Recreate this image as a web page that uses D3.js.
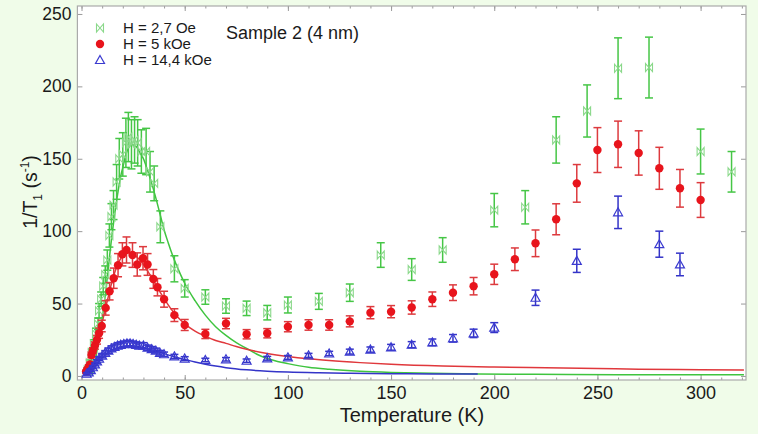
<!DOCTYPE html>
<html>
<head>
<meta charset="utf-8">
<script src="https://cdn.jsdelivr.net/npm/d3@7"></script>
<style>
  html, body { margin: 0; padding: 0; background: #f0fce9; }
  svg { display: block; }
  text { font-family: "Liberation Sans", Arial, sans-serif; fill: #1a1a1a; }
</style>
</head>
<body>
<svg id="chart" width="758" height="434"></svg>
<script>
// 1/T1 relaxation rate vs temperature, sample 2 (4 nm), three applied fields.
// Each row: [temperature K, 1/T1 s^-1, error half-height]
const lowField = [
  [3, 4, 1.5], [4, 9, 2], [5, 16, 2.5], [6, 22, 3], [7, 29, 4], [8, 36, 4],
  [8.5, 45, 5], [9.5, 53, 5], [10.5, 62, 6], [11.5, 70, 6], [12.5, 80, 7],
  [13.5, 97, 8], [14.5, 110, 9], [15.5, 118, 10], [17, 134, 12], [18.3, 150, 14],
  [20, 153, 15], [21.5, 161, 17], [22.7, 165, 17], [24.2, 160, 17], [25.7, 163, 16],
  [27.2, 161, 16], [29, 155, 15], [31.3, 155, 16], [33.2, 141, 14], [35.2, 133, 12],
  [38.2, 103, 11], [45, 74, 9], [50, 60.5, 6], [60, 54.5, 5], [70, 48.3, 5],
  [80, 46.7, 5], [90, 43.7, 5], [100, 49, 5.5], [115, 51.5, 5.5], [130, 57.5, 6],
  [145, 83.5, 8.5], [160, 73.5, 7.5], [175, 87, 8.5], [200, 114.5, 11.5],
  [215, 116.5, 11.5], [230, 163, 16], [245, 183, 18], [260, 212.5, 21],
  [275, 213, 21], [300, 155, 15.5], [315, 141, 14]
];
const midField = [
  [2.2, 3, 1], [2.8, 4.5, 1], [3.5, 6.4, 1.2], [4.2, 8, 1.5], [4.8, 14.5, 2],
  [5.5, 17.5, 2], [6.5, 21, 2.5], [7.5, 25, 3], [8.5, 29.5, 3.5], [9.8, 34.5, 4],
  [11.7, 47, 5], [13.6, 58.5, 6], [15.6, 67.5, 7], [17.7, 76.5, 8], [19.8, 84, 8],
  [21.8, 87, 9], [24.7, 83.5, 8.5], [27, 77, 8], [29.8, 81.3, 8], [32, 77, 7.5],
  [34.8, 67, 6.5], [36.8, 61.3, 6], [40, 53, 5.5], [45, 42, 4.4], [50, 35.2, 3.8],
  [60, 29, 3.2], [70, 36.2, 3.6], [80, 28.8, 3.2], [90, 29.5, 3.2], [100, 34, 3.5],
  [110, 35.2, 3.6], [120, 35.2, 3.6], [130, 37.7, 3.8], [140, 43.7, 4.2],
  [150, 44.4, 4.2], [160, 47.3, 4.6], [170, 53, 5], [180, 57.5, 5.4],
  [190, 62, 6], [200, 70.2, 7], [210, 80.6, 7.8], [220, 91.6, 9.2],
  [230, 108.2, 10.7], [240, 133, 13], [250, 156, 15.5], [260, 160, 16],
  [270, 154, 15.3], [280, 143.4, 14.5], [290, 129.6, 13], [300, 121.5, 12]
];
const highField = [
  [2.5, 1.5, 0.8], [3.5, 2.5, 0.8], [4.5, 4, 1], [5.5, 6, 1], [6.5, 8, 1],
  [7.5, 10, 1.2], [8.5, 12, 1.2], [10, 14, 1.5], [11.5, 16, 1.5], [13, 17.5, 1.8],
  [14.5, 19, 1.8], [16, 20, 2], [17.5, 21, 2], [19, 21.5, 2], [20.5, 22, 2],
  [22, 22.5, 2], [23.5, 22.5, 2], [25, 22, 2], [26.5, 21.5, 2], [28, 21, 2],
  [30, 21, 2], [32, 19.5, 1.8], [34, 18.5, 1.8], [36, 17.5, 1.7], [38, 16, 1.6],
  [40, 15, 1.5], [45, 13.5, 1.4], [50, 12, 1.3], [60, 11, 1.2], [70, 11.5, 1.2],
  [80, 10.5, 1.2], [90, 12.2, 1.3], [100, 12.8, 1.3], [110, 14.2, 1.4],
  [120, 15.5, 1.5], [130, 16.8, 1.7], [140, 18.2, 1.8], [150, 19.8, 2],
  [160, 21.6, 2.1], [170, 23.2, 2.3], [180, 26, 2.6], [190, 29.4, 2.9],
  [200, 33.4, 3.4], [220, 54, 5.3], [240, 79.5, 8], [260, 113, 11.2],
  [280, 91, 9], [290, 77, 7.8]
];

// Model fits, [temperature K, 1/T1 s^-1]
const lowFieldFit = [
  [5, 0.5], [6, 5], [7, 13], [8, 22], [9, 31], [10, 40], [11, 50], [12, 62],
  [13, 75], [14, 88], [15, 100], [16, 111], [17, 121], [18, 130], [19, 138],
  [20, 144], [21, 150], [22, 155], [23, 158], [24, 159.5], [25, 159.5], [26, 159],
  [27, 157.5], [28, 155], [30, 150], [32, 142], [34, 133], [36, 123], [38, 112],
  [40, 101], [42, 92], [45, 80], [48, 70], [50, 64], [55, 52], [60, 42], [65, 34],
  [70, 28], [75, 23], [80, 19], [85, 15], [90, 12], [95, 10], [100, 8.5],
  [110, 6], [120, 4.6], [135, 3.2], [150, 2.4], [170, 1.8], [192, 1.4],
  [220, 1.1], [260, 0.9], [321, 0.8]
];
const midFieldFit = [
  [2, 2], [3, 4], [4, 7], [5, 11], [6, 16], [7, 21], [8, 26], [9, 31], [10, 37],
  [11, 43], [12, 49], [13, 55], [14, 61], [15, 66], [16, 71], [17, 75],
  [18, 78.5], [19, 81], [20, 83], [21, 84.3], [22, 85], [23, 85.2], [24, 85],
  [25, 84.3], [26, 83.3], [28, 80.5], [30, 77], [32, 72.5], [34, 68], [36, 63],
  [38, 58], [40, 53.5], [43, 47], [46, 41.5], [50, 36], [55, 31], [60, 27.5],
  [65, 24.5], [70, 22.5], [75, 20.3], [80, 18.4], [90, 15.5], [100, 13.4],
  [110, 11.8], [120, 10.6], [135, 9.2], [150, 8.1], [175, 6.9], [200, 6.2],
  [225, 5.6], [250, 5.1], [270, 4.7], [300, 4.3], [321, 4.1]
];
const highFieldFit = [
  [3, 0.5], [4, 2], [5, 3.5], [6, 5.5], [7, 7.5], [8, 9.3], [9, 11], [10, 12.5],
  [12, 15], [14, 17], [16, 18.5], [18, 19.6], [20, 20.3], [22, 20.7], [24, 20.8],
  [26, 20.6], [28, 20.2], [30, 19.6], [33, 18.5], [36, 17.2], [40, 15.4],
  [45, 13.3], [50, 11.4], [55, 9.6], [60, 8.1], [65, 6.8], [70, 5.7], [80, 4.2],
  [90, 3.3], [100, 2.7], [115, 2.2], [130, 1.9], [150, 1.6], [170, 1.4], [192, 1.3]
];

const xTicks = [0, 50, 100, 150, 200, 250, 300];
const yTicks = [0, 50, 100, 150, 200, 250];
const legendLabels = ["H = 2,7 Oe", "H = 5 kOe", "H = 14,4 kOe"];
const sampleTitle = "Sample 2 (4 nm)";

const svg = d3.select("#chart");
const frame = { l: 77.4, r: 746, t: 6, b: 380 };

const x = d3.scaleLinear().domain([-2, 322]).range([frame.l, frame.r]);
const y = d3.scaleLinear().domain([-2.8, 255.5]).range([frame.b, frame.t]);

// plot area
svg.append("rect")
  .attr("x", frame.l).attr("y", frame.t)
  .attr("width", frame.r - frame.l).attr("height", frame.b - frame.t)
  .attr("fill", "#ffffff");

const minorX = d3.range(0, 321, 10);

function tickOnly(g) { g.select(".domain").remove(); g.selectAll("line").attr("stroke", "#9a9a9a"); }

// bottom axis with labels
svg.append("g").attr("transform", `translate(0,${frame.b})`)
  .call(d3.axisBottom(x).tickValues(xTicks).tickSize(-5).tickPadding(6).tickFormat(d3.format("d")))
  .call(tickOnly)
  .call(g => g.selectAll("text").attr("font-size", 18).attr("fill", "#1a1a1a"));
svg.append("g").attr("transform", `translate(0,${frame.b})`)
  .call(d3.axisBottom(x).tickValues(minorX).tickSize(-2.5).tickFormat(""))
  .call(tickOnly);
// top axis ticks
svg.append("g").attr("transform", `translate(0,${frame.t})`)
  .call(d3.axisTop(x).tickValues(xTicks).tickSize(-5).tickFormat(""))
  .call(tickOnly);
svg.append("g").attr("transform", `translate(0,${frame.t})`)
  .call(d3.axisTop(x).tickValues(minorX).tickSize(-2.5).tickFormat(""))
  .call(tickOnly);
// left axis with labels
svg.append("g").attr("transform", `translate(${frame.l},0)`)
  .call(d3.axisLeft(y).tickValues(yTicks).tickSize(-5).tickPadding(6).tickFormat(d3.format("d")))
  .call(tickOnly)
  .call(g => g.selectAll("text").attr("font-size", 17.5).attr("fill", "#1a1a1a"));
// right axis ticks
svg.append("g").attr("transform", `translate(${frame.r},0)`)
  .call(d3.axisRight(y).tickValues(yTicks).tickSize(-5).tickFormat(""))
  .call(tickOnly);

// frame
svg.append("rect")
  .attr("x", frame.l).attr("y", frame.t)
  .attr("width", frame.r - frame.l).attr("height", frame.b - frame.t)
  .attr("fill", "none").attr("stroke", "#aaaaaa").attr("stroke-width", 1.2);

// axis titles
svg.append("text")
  .attr("x", 412).attr("y", 422)
  .attr("text-anchor", "middle").attr("font-size", 20)
  .text("Temperature (K)");

const yTitle = svg.append("text")
  .attr("transform", "translate(37,192) rotate(-90)")
  .attr("text-anchor", "middle").attr("font-size", 19.5);
yTitle.append("tspan").text("1/T");
yTitle.append("tspan").attr("font-size", 12).attr("dy", 5).text("1");
yTitle.append("tspan").attr("dy", -5).text(" (s");
yTitle.append("tspan").attr("font-size", 12).attr("dy", -8).text("-1");
yTitle.append("tspan").attr("dy", 8).text(")");

// fitted curves
const plot = svg.append("g");
const line = d3.line().x(d => x(d[0])).y(d => y(d[1])).curve(d3.curveMonotoneX);

const series = [
  { pts: lowField, fit: lowFieldFit, line: "#3fc43f", bar: "#46c646", mark: "#8ad88a", kind: "bowtie" },
  { pts: midField, fit: midFieldFit, line: "#e0383c", bar: "#dd3a3e", mark: "#e8141c", kind: "circle" },
  { pts: highField, fit: highFieldFit, line: "#3434c8", bar: "#3434c8", mark: "#3a3ad0", kind: "triangle" }
];

series.forEach(s => {
  plot.append("path").datum(s.fit)
    .attr("d", line).attr("fill", "none")
    .attr("stroke", s.line).attr("stroke-width", 1.5);
});

const bowtie = "M-3.5,-4L3.5,4L3.5,-4L-3.5,4Z";
const triangle = "M0,-4.5L4.5,3.5L-4.5,3.5Z";

function drawMarker(g, kind, color) {
  if (kind === "circle") {
    g.append("circle").attr("r", 4.2).attr("fill", color);
  } else if (kind === "bowtie") {
    g.append("path").attr("d", bowtie).attr("fill", "none")
      .attr("stroke", color).attr("stroke-width", 1.1);
  } else {
    g.append("path").attr("d", triangle).attr("fill", "none")
      .attr("stroke", color).attr("stroke-width", 1.2);
  }
}

series.forEach(s => {
  const g = plot.append("g");
  const bars = g.selectAll("g.bar").data(s.pts).join("g").attr("class", "bar")
    .attr("stroke", s.bar).attr("stroke-width", 1.5);
  bars.append("line")
    .attr("x1", d => x(d[0])).attr("x2", d => x(d[0]))
    .attr("y1", d => y(d[1] - d[2])).attr("y2", d => y(d[1] + d[2]));
  bars.append("line")
    .attr("x1", d => x(d[0]) - 4).attr("x2", d => x(d[0]) + 4)
    .attr("y1", d => y(d[1] + d[2])).attr("y2", d => y(d[1] + d[2]));
  bars.append("line")
    .attr("x1", d => x(d[0]) - 4).attr("x2", d => x(d[0]) + 4)
    .attr("y1", d => y(d[1] - d[2])).attr("y2", d => y(d[1] - d[2]));
  g.selectAll("g.mk").data(s.pts).join("g").attr("class", "mk")
    .attr("transform", d => `translate(${x(d[0])},${y(d[1])})`)
    .each(function () { drawMarker(d3.select(this), s.kind, s.mark); });
});

// legend
const legend = svg.append("g");
legendLabels.forEach((label, i) => {
  const cy = 28 + i * 16;
  const mk = legend.append("g").attr("transform", `translate(100,${cy})`);
  drawMarker(mk, series[i].kind, series[i].mark);
  legend.append("text").attr("x", 123).attr("y", cy + 5)
    .attr("font-size", 15).text(label);
});

svg.append("text").attr("x", 226).attr("y", 39)
  .attr("font-size", 18).text(sampleTitle);
</script>
</body>
</html>
